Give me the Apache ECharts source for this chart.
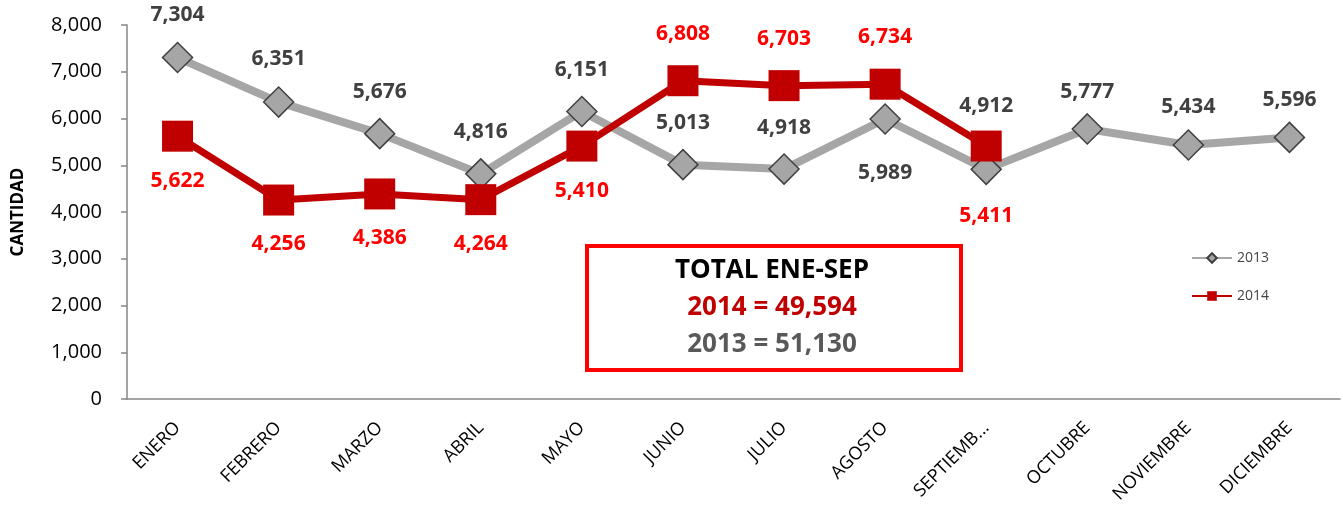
<!DOCTYPE html>
<html>
<head>
<meta charset="utf-8">
<script src="https://cdn.jsdelivr.net/npm/echarts@6/dist/echarts.min.js"></script>
<style>
  html, body { margin: 0; padding: 0; background: #fff; }
  #chart { width: 1343px; height: 517px; }
</style>
</head>
<body>
<div id="chart"></div>
<script>
const months = ['ENERO', 'FEBRERO', 'MARZO', 'ABRIL', 'MAYO', 'JUNIO', 'JULIO',
    'AGOSTO', 'SEPTIEMB...', 'OCTUBRE', 'NOVIEMBRE', 'DICIEMBRE'];
const values2013 = [7304, 6351, 5676, 4816, 6151, 5013, 4918, 5989, 4912, 5777, 5434, 5596];
const values2014 = [5622, 4256, 4386, 4264, 5410, 6808, 6703, 6734, 5411];
const totalTitle = 'TOTAL ENE-SEP';
const total2014 = 49594;
const total2013 = 51130;

// vertical shift of each data label from its marker
const labelShift2013 = [-43, -43, -42, -42, -41, -42, -41, 54, -63, -37, -38, -37];
const labelShift2014 = [45, 44, 44, 44, 45, -47, -47, -47, 70];

const fmt = v => v.toLocaleString('en-US');
const font = '"Open Sans", "DejaVu Sans", sans-serif';

const chart = echarts.init(document.getElementById('chart'));

const withLabels = (vals, shifts) => vals.map((v, i) => ({
    value: v,
    label: { offset: [0, shifts[i]] }
}));

chart.setOption({
    backgroundColor: '#ffffff',
    animation: false,
    textStyle: { fontFamily: font },
    grid: { left: 127, right: 3, top: 25, bottom: 118 },
    legend: {
        orient: 'vertical',
        left: 1186,
        top: 246,
        itemGap: 24,
        itemWidth: 40,
        itemHeight: 12,
        data: ['2013', '2014'],
        textStyle: { color: '#444', fontSize: 14, fontFamily: font }
    },
    xAxis: {
        type: 'category',
        data: months,
        axisLine: { lineStyle: { color: '#868686', width: 1.5 } },
        axisTick: { lineStyle: { color: '#868686', width: 1.5 }, length: 6 },
        axisLabel: {
            rotate: 45,
            margin: 26,
            color: '#000',
            fontSize: 18,
            interval: 0
        }
    },
    yAxis: {
        type: 'value',
        min: 0,
        max: 8000,
        interval: 1000,
        name: 'CANTIDAD',
        nameLocation: 'middle',
        nameGap: 100,
        nameRotate: 90,
        nameTextStyle: { color: '#000', fontWeight: 'bold', fontSize: 17 },
        axisLine: { show: true, lineStyle: { color: '#868686', width: 1.5 } },
        axisTick: { show: true, lineStyle: { color: '#868686', width: 1.5 }, length: 6 },
        splitLine: { show: false },
        axisLabel: { color: '#000', fontSize: 20, margin: 25, formatter: fmt }
    },
    series: [
        {
            name: '2013',
            type: 'line',
            data: withLabels(values2013, labelShift2013),
            symbol: 'diamond',
            symbolSize: 30,
            lineStyle: { color: '#a6a6a6', width: 8 },
            itemStyle: { color: '#a6a6a6', borderColor: '#404040', borderWidth: 1.5 },
            label: {
                show: true,
                position: 'inside',
                color: '#404040',
                fontWeight: 'bold',
                fontSize: 21,
                formatter: p => fmt(p.value)
            },
            z: 2
        },
        {
            name: '2014',
            type: 'line',
            data: withLabels(values2014, labelShift2014),
            symbol: 'rect',
            symbolSize: 31,
            lineStyle: { color: '#c00000', width: 7 },
            itemStyle: { color: '#c00000' },
            label: {
                show: true,
                position: 'inside',
                color: '#ff0000',
                fontWeight: 'bold',
                fontSize: 21,
                formatter: p => fmt(p.value)
            },
            z: 3
        }
    ],
    graphic: [
        {
            type: 'rect',
            left: 585,
            top: 244,
            shape: { width: 374, height: 124 },
            style: { fill: '#fff', stroke: '#ff0000', lineWidth: 4 },
            z: 10
        },
        {
            type: 'text',
            x: 772, y: 271,
            style: {
                text: totalTitle, fill: '#000', font: 'bold 26px ' + font,
                align: 'center', verticalAlign: 'middle'
            },
            z: 11
        },
        {
            type: 'text',
            x: 772, y: 308,
            style: {
                text: '2014 = ' + fmt(total2014), fill: '#c00000', font: 'bold 26px ' + font,
                align: 'center', verticalAlign: 'middle'
            },
            z: 11
        },
        {
            type: 'text',
            x: 772, y: 345,
            style: {
                text: '2013 = ' + fmt(total2013), fill: '#595959', font: 'bold 26px ' + font,
                align: 'center', verticalAlign: 'middle'
            },
            z: 11
        }
    ]
});
</script>
</body>
</html>
